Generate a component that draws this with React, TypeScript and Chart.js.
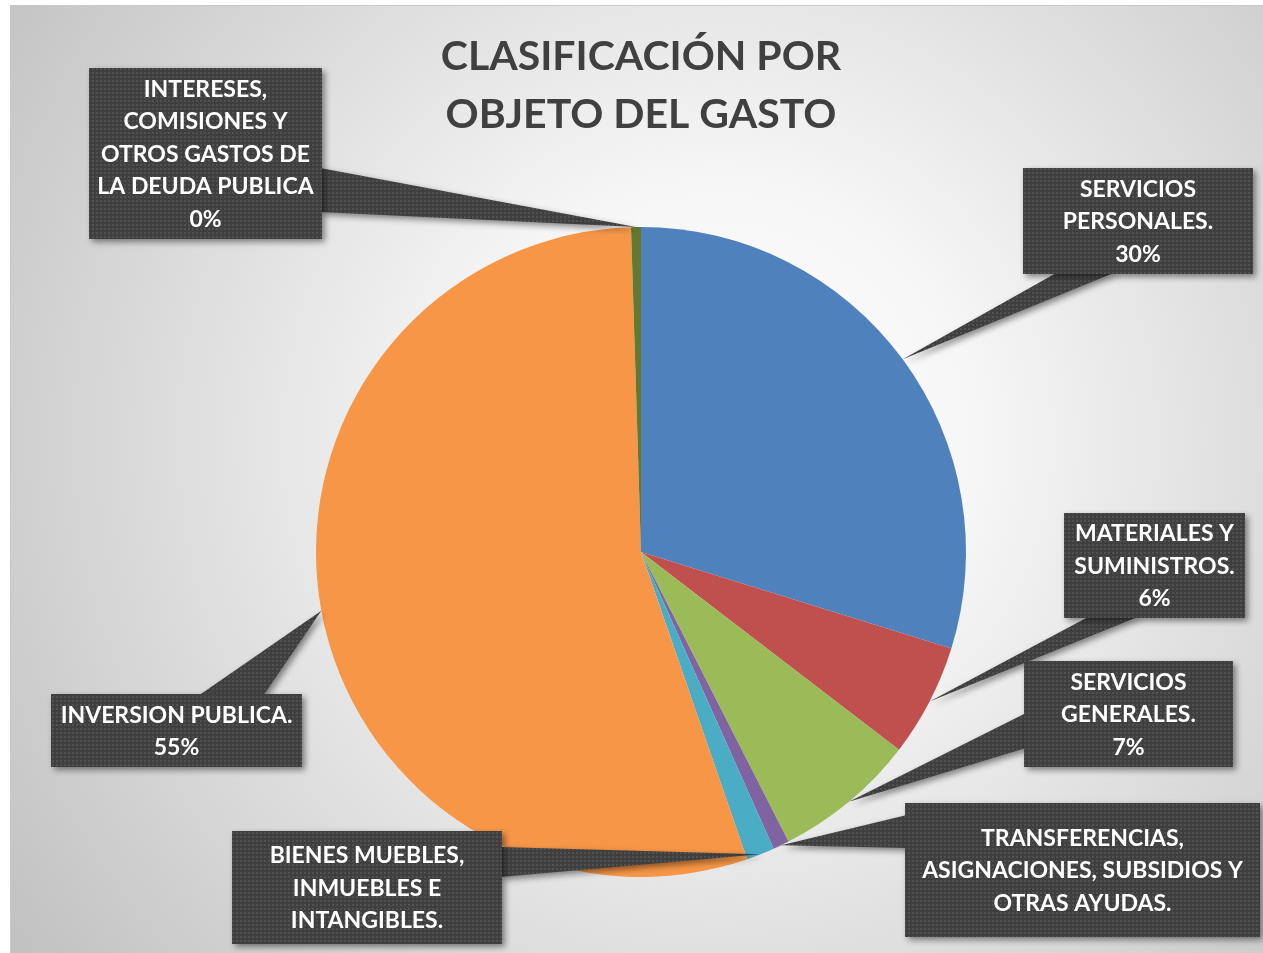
import React, { useEffect, useRef } from "react";
import { Chart, registerables } from "chart.js";

Chart.register(...registerables);

// ---- data ----
const categories = [
  "SERVICIOS PERSONALES.",
  "MATERIALES Y SUMINISTROS.",
  "SERVICIOS GENERALES.",
  "TRANSFERENCIAS, ASIGNACIONES, SUBSIDIOS Y OTRAS AYUDAS.",
  "BIENES MUEBLES, INMUEBLES E INTANGIBLES.",
  "INVERSION PUBLICA.",
  "INTERESES, COMISIONES Y OTROS GASTOS DE LA DEUDA PUBLICA",
];
const values = [29.8, 5.6, 7.1, 0.8, 1.4, 54.8, 0.49];
const labelLines = [
  ["SERVICIOS", "PERSONALES."],
  ["MATERIALES Y", "SUMINISTROS."],
  ["SERVICIOS", "GENERALES."],
  ["TRANSFERENCIAS,", "ASIGNACIONES, SUBSIDIOS Y", "OTRAS AYUDAS."],
  ["BIENES MUEBLES,", "INMUEBLES E", "INTANGIBLES."],
  ["INVERSION PUBLICA."],
  ["INTERESES,", "COMISIONES Y", "OTROS GASTOS DE", "LA DEUDA PUBLICA"],
];
const showPercent = [true, true, true, false, false, true, true];
const titleLines = ["CLASIFICACIÓN POR", "OBJETO DEL GASTO"];

// ---- styles / layout ----
const colors = ["#4f81bd", "#c0504d", "#9bbb59", "#8064a2", "#4bacc6", "#f79646", "#64782f"];
type Box = { x: number; y: number; w: number; h: number; side: string; a: number; b: number };
const boxes: Box[] = [
  { x: 1023, y: 168, w: 230, h: 106, side: "bottom", a: 1058, b: 1116 },
  { x: 1064, y: 513, w: 181, h: 105, side: "bottom", a: 1090, b: 1140 },
  { x: 1024, y: 661, w: 209, h: 106, side: "left", a: 713, b: 748 },
  { x: 905, y: 803, w: 355, h: 134, side: "left", a: 815, b: 848 },
  { x: 232, y: 831, w: 270, h: 113, side: "right", a: 847, b: 877 },
  { x: 51, y: 694, w: 251, h: 73, side: "top", a: 198, b: 263 },
  { x: 89, y: 68, w: 233, h: 171, side: "right", a: 168, b: 212 },
];
const FONT = "Lato, 'Open Sans', sans-serif";

function makePattern(ctx: CanvasRenderingContext2D) {
  const c = document.createElement("canvas");
  c.width = 4;
  c.height = 4;
  const p = c.getContext("2d")!;
  p.fillStyle = "#3f3f3f";
  p.fillRect(0, 0, 4, 4);
  p.fillStyle = "#515151";
  p.fillRect(0, 0, 2, 2);
  return ctx.createPattern(c, "repeat")!;
}

const backgroundPlugin = {
  id: "bg",
  beforeDraw(chart: any) {
    const ctx = chart.ctx as CanvasRenderingContext2D;
    ctx.save();
    ctx.fillStyle = "#ffffff";
    ctx.fillRect(0, 0, chart.width, chart.height);
    const g = ctx.createRadialGradient(720, 440, 0, 720, 440, 860);
    g.addColorStop(0, "#ffffff");
    g.addColorStop(0.3, "#f6f6f6");
    g.addColorStop(1, "#c2c2c2");
    ctx.fillStyle = g;
    ctx.fillRect(10, 5, chart.width - 10, chart.height - 5);
    ctx.strokeStyle = "#c8c8c8";
    ctx.lineWidth = 1;
    ctx.beginPath();
    ctx.moveTo(10, 5.5);
    ctx.lineTo(chart.width, 5.5);
    ctx.moveTo(10.5, 5);
    ctx.lineTo(10.5, chart.height);
    ctx.stroke();
    ctx.restore();
  },
};

const calloutPlugin = {
  id: "callouts",
  afterDatasetsDraw(chart: any) {
    const ctx = chart.ctx as CanvasRenderingContext2D;
    const meta = chart.getDatasetMeta(0);
    const data = chart.data.datasets[0].data as number[];
    const total = data.reduce((s, v) => s + v, 0);
    const pattern = makePattern(ctx);
    meta.data.forEach((arc: any, i: number) => {
      const { x, y, startAngle, endAngle, outerRadius } = arc.getProps(
        ["x", "y", "startAngle", "endAngle", "outerRadius"],
        true
      );
      const mid = (startAngle + endAngle) / 2;
      const tx = x + Math.cos(mid) * outerRadius;
      const ty = y + Math.sin(mid) * outerRadius;
      const b = boxes[i];
      let p1: number[], p2: number[];
      if (b.side === "bottom") {
        p1 = [b.a, b.y + b.h - 2];
        p2 = [b.b, b.y + b.h - 2];
      } else if (b.side === "top") {
        p1 = [b.a, b.y + 2];
        p2 = [b.b, b.y + 2];
      } else if (b.side === "left") {
        p1 = [b.x + 2, b.a];
        p2 = [b.x + 2, b.b];
      } else {
        p1 = [b.x + b.w - 2, b.a];
        p2 = [b.x + b.w - 2, b.b];
      }
      ctx.save();
      ctx.shadowColor = "rgba(0,0,0,0.45)";
      ctx.shadowBlur = 6;
      ctx.shadowOffsetX = 3;
      ctx.shadowOffsetY = 3;
      ctx.fillStyle = pattern;
      ctx.beginPath();
      ctx.moveTo(p1[0], p1[1]);
      ctx.lineTo(tx, ty);
      ctx.lineTo(p2[0], p2[1]);
      ctx.closePath();
      ctx.fill();
      ctx.fillRect(b.x, b.y, b.w, b.h);
      ctx.restore();
    });
    meta.data.forEach((_arc: any, i: number) => {
      const b = boxes[i];
      const lines = labelLines[i].slice();
      if (showPercent[i]) lines.push(Math.round((data[i] / total) * 100) + "%");
      const lh = 32.5;
      const cx = b.x + b.w / 2;
      const cy = b.y + b.h / 2;
      ctx.save();
      ctx.fillStyle = "#ffffff";
      ctx.font = `bold 23px ${FONT}`;
      ctx.textAlign = "center";
      ctx.textBaseline = "middle";
      lines.forEach((t, k) => {
        ctx.fillText(t, cx, cy + (k - (lines.length - 1) / 2) * lh + 1);
      });
      ctx.restore();
    });
  },
};

export default function App() {
  const ref = useRef<HTMLCanvasElement>(null);
  useEffect(() => {
    const chart = new Chart(ref.current!, {
      type: "pie",
      data: {
        labels: categories,
        datasets: [
          {
            data: values,
            backgroundColor: colors,
            borderWidth: 0,
          },
        ],
      },
      options: {
        responsive: false,
        animation: false,
        layout: { padding: { top: 0, left: 316, right: 297, bottom: 76 } },
        plugins: {
          legend: { display: false },
          tooltip: { enabled: false },
          title: {
            display: true,
            text: titleLines,
            color: "#404040",
            font: { family: FONT, size: 41, weight: "bold", lineHeight: "58px" },
            padding: { top: 28, bottom: 83 },
          },
        },
      },
      plugins: [backgroundPlugin, calloutPlugin],
    });
    return () => chart.destroy();
  }, []);
  return (
    <div style={{ position: "fixed", left: 0, top: 0, width: 1263, height: 953 }}>
      <canvas ref={ref} width={1263} height={953} style={{ display: "block" }} />
    </div>
  );
}
